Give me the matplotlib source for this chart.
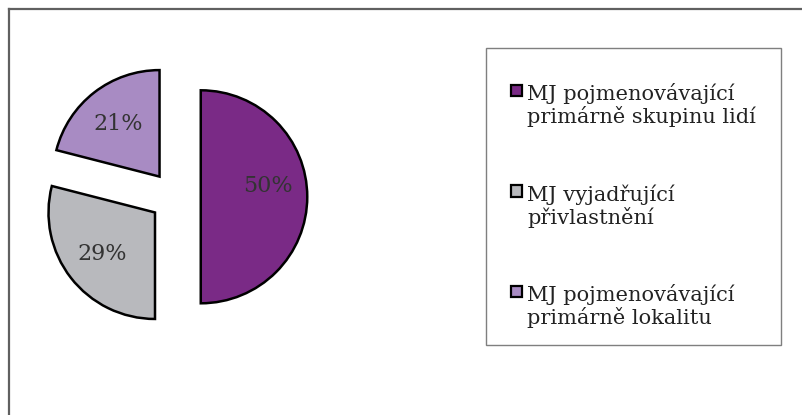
import matplotlib
matplotlib.use("Agg")
import matplotlib.pyplot as plt
from matplotlib.patches import Rectangle
from matplotlib.lines import Line2D

plt.rcParams['font.family'] = ['DejaVu Serif']

# data
labels = ["MJ pojmenovávající\nprimárně skupinu lidí",
          "MJ vyjadřující\npřivlastnění",
          "MJ pojmenovávající\nprimárně lokalitu"]
values = [50, 29, 21]
colors = ["#7A2A86", "#B8B9BD", "#A88BC3"]

W, H = 803, 415
fig = plt.figure(figsize=(W / 100, H / 100), dpi=100)
fig.patch.set_facecolor("white")

def px(x, y):
    # pixel coords (top-left origin) -> figure fraction
    return x / W, 1 - y / H

# outer frame (only top and left visible)
fig.add_artist(Line2D([8.5 / W, 1.0], [1 - 9.5 / H, 1 - 9.5 / H], color="#606060", lw=1.6))
fig.add_artist(Line2D([8.5 / W, 8.5 / W], [0.0, 1 - 9.5 / H], color="#606060", lw=1.6))

# pie axes: centre at (175, 197) px, radius 106.5 px
R = 106.5
cx, cy = 175.2, 196.8
half = 1.6 * R
ax = fig.add_axes([(cx - half) / W, (H - cy - half) / H, 2 * half / W, 2 * half / H])
wedges, texts, autotexts = ax.pie(
    values, colors=colors, startangle=90, counterclock=False,
    explode=[0.24, 0.24, 0.24], autopct="%d%%", pctdistance=0.63,
    wedgeprops=dict(edgecolor="black", linewidth=1.8),
    textprops=dict(fontsize=16, color="#333333"))
autotexts[0].set_y(autotexts[0].get_position()[1] + 0.1)
ax.set_xlim(-1.6, 1.6)
ax.set_ylim(-1.6, 1.6)
ax.set_aspect("equal")
ax.axis("off")

# legend drawn by hand so the marker sits on the first line
bx0, by0, bx1, by1 = 486, 48, 781, 345
x0, y0 = px(bx0, by1)
fig.add_artist(Rectangle((x0, y0), (bx1 - bx0) / W, (by1 - by0) / H,
                         transform=fig.transFigure, facecolor="white",
                         edgecolor="#7F7F7F", lw=1.0))
for i, (lab, col) in enumerate(zip(labels, colors)):
    base = 96 + i * 100.5
    mx, my = px(511, base)
    fig.add_artist(Rectangle((mx, my), 11 / W, 11 / H, transform=fig.transFigure,
                             facecolor=col, edgecolor="black", lw=1.6))
    # va='baseline' anchors the last line; second line sits 27 px lower
    tx, ty = px(527, base + 27.3)
    fig.text(tx, ty, lab, fontsize=15, color="#222222", va="baseline",
             ha="left", linespacing=1.12)

fig.savefig("out.png", dpi=100)
